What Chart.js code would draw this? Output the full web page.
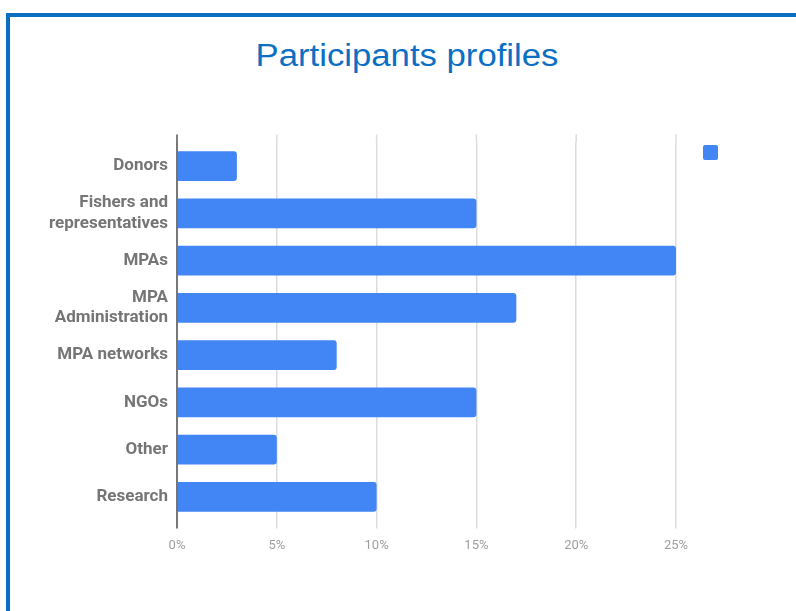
<!DOCTYPE html>
<html>
<head>
<meta charset="utf-8">
<script src="https://cdn.jsdelivr.net/npm/chart.js@4/dist/chart.umd.min.js"></script>
<style>
  html, body { margin: 0; padding: 0; background: #fff; }
  body { width: 796px; height: 611px; position: relative; overflow: hidden; }
  .frame {
    position: absolute; left: 6px; top: 13px; right: 0; bottom: 0;
    border-top: 4px solid #0a6fc2; border-left: 4px solid #0a6fc2;
  }
  .wrap { position: absolute; left: 0; top: 0; width: 796px; height: 611px; }
  h1 {
    position: absolute; left: 0; top: 40px; width: 814px; margin: 0;
    text-align: center; font: normal 31px/32px "Liberation Sans", Arial, sans-serif;
    color: #0b6fc4; transform: scaleX(1.12);
  }
</style>
</head>
<body>
<div class="frame"></div>
<h1>Participants profiles</h1>
<div class="wrap"><canvas id="myChart" width="796" height="611"></canvas></div>
<script>
// chart data
const categories = [
  'Donors',
  ['Fishers and', 'representatives'],
  'MPAs',
  ['MPA', 'Administration'],
  'MPA networks',
  'NGOs',
  'Other',
  'Research'
];
const shares = [3, 15, 25, 17, 8, 15, 5, 10];
const xTicks = [0, 5, 10, 15, 20, 25];

// grid lines and the y axis run a little past the plot area, like the original
const extendLines = {
  id: 'extendLines',
  afterDraw(chart) {
    const { ctx, chartArea, scales } = chart;
    const ext = 8;
    ctx.save();
    ctx.lineWidth = 1.5;
    ctx.strokeStyle = '#dcdcdc';
    xTicks.slice(1).forEach(v => {
      const x = scales.x.getPixelForValue(v);
      ctx.beginPath();
      ctx.moveTo(x, chartArea.top - ext);
      ctx.lineTo(x, chartArea.top);
      ctx.stroke();
    });
    const x0 = scales.x.getPixelForValue(0);
    ctx.strokeStyle = '#555';
    ctx.beginPath();
    ctx.moveTo(x0, chartArea.top - ext);
    ctx.lineTo(x0, chartArea.bottom + ext);
    ctx.stroke();
    ctx.restore();
  }
};

// legend of the original is just a coloured square without text
const squareLegend = {
  id: 'squareLegend',
  afterDraw(chart) {
    const { ctx, chartArea } = chart;
    ctx.save();
    ctx.fillStyle = chart.data.datasets[0].backgroundColor;
    ctx.beginPath();
    ctx.roundRect(chartArea.right + 27, chartArea.top + 2.5, 15, 15, 2);
    ctx.fill();
    ctx.restore();
  }
};

const ctx = document.getElementById('myChart');
new Chart(ctx, {
  type: 'bar',
  data: {
    labels: categories,
    datasets: [
      {
        label: '',
        data: shares,
        backgroundColor: '#4285f4',
        borderRadius: 3,
        borderSkipped: 'start',
        barPercentage: 0.63,
        categoryPercentage: 1
      }
    ]
  },
  options: {
    indexAxis: 'y',
    responsive: false,
    animation: false,
    layout: { padding: { left: 20, right: 120, top: 142.5, bottom: 47 } },
    plugins: {
      legend: { display: false },
      tooltip: { enabled: false }
    },
    scales: {
      x: {
        min: 0,
        max: 25,
        ticks: {
          stepSize: 5,
          padding: 10,
          color: '#9e9e9e',
          font: { family: 'Roboto', size: 13 },
          callback: v => v + '%'
        },
        grid: { color: '#dcdcdc', lineWidth: 1.5, drawTicks: true, tickLength: 8 },
        border: { display: false }
      },
      y: {
        afterFit: s => { s.width = 157; },
        ticks: {
          padding: 9,
          color: '#757575',
          font: { family: 'Roboto', size: 17, weight: 'bold', lineHeight: 1.2 }
        },
        grid: { display: false, drawTicks: false },
        border: { display: false }
      }
    }
  },
  plugins: [extendLines, squareLegend]
});
</script>
</body>
</html>
